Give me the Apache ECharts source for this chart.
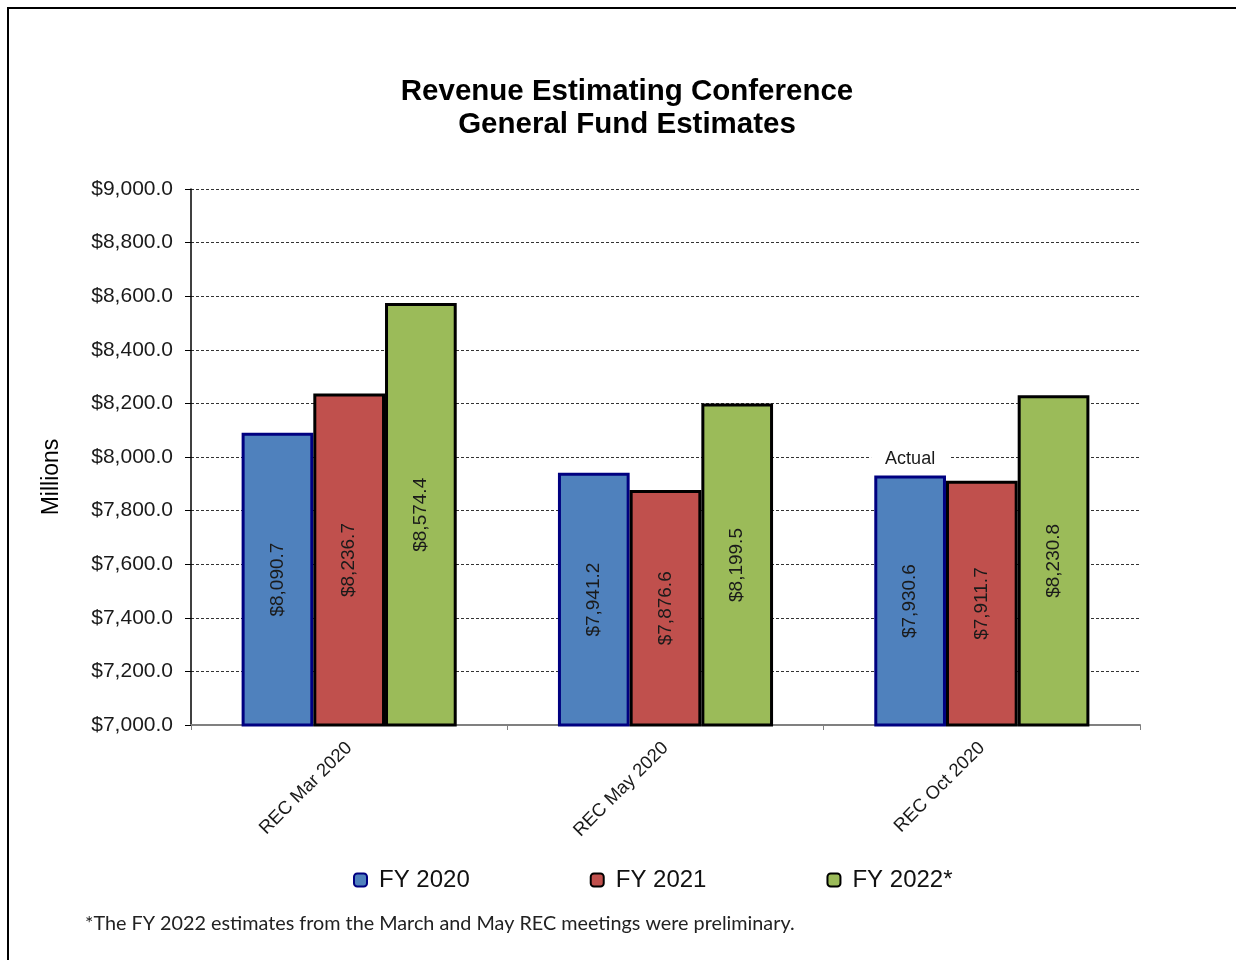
<!DOCTYPE html>
<html>
<head>
<meta charset="utf-8">
<script src="https://cdn.jsdelivr.net/npm/echarts@6/dist/echarts.min.js"></script>
<style>
html,body{margin:0;padding:0;background:#fff;}
#chart{width:1236px;height:960px;}
</style>
</head>
<body>
<div id="chart"></div>
<script>
const categories = ['REC Mar 2020', 'REC May 2020', 'REC Oct 2020'];
const seriesNames = ['FY 2020', 'FY 2021', 'FY 2022*'];
const fy2020 = [8090.7, 7941.2, 7930.6];
const fy2021 = [8236.7, 7876.6, 7911.7];
const fy2022 = [8574.4, 8199.5, 8230.8];
const yTicks = { min: 7000, max: 9000, interval: 200 };
const titleLines = ['Revenue Estimating Conference', 'General Fund Estimates'];
const footnote = '*The FY 2022 estimates from the March and May REC meetings were preliminary.';
const annotationText = 'Actual';

const fmt = v => '$' + v.toLocaleString('en-US', { minimumFractionDigits: 1, maximumFractionDigits: 1 });

const chart = echarts.init(document.getElementById('chart'), null, { renderer: 'canvas' });

const FONT = 'Liberation Sans, Arial, sans-serif';
const fills = ['#4F81BD', '#C0504D', '#9BBB59'];
const borders = ['#000080', '#000000', '#000000'];
const allData = [fy2020, fy2021, fy2022];

const series = allData.map((d, i) => {
  const s = {
    name: seriesNames[i],
    type: 'bar',
    data: d,
    barGap: '0%',
    barCategoryGap: '32%',
    itemStyle: { color: fills[i], borderColor: borders[i], borderWidth: 3 },
    label: {
      show: true,
      position: 'inside',
      rotate: 90,
      formatter: p => fmt(p.value),
      fontFamily: FONT,
      fontSize: 19,
      color: '#1a1a1a'
    },
    emphasis: { disabled: true }
  };
  if (i === 0) {
    s.markPoint = {
      symbol: 'rect',
      symbolSize: [1, 1],
      silent: true,
      itemStyle: { color: 'rgba(0,0,0,0)' },
      data: [{ coord: [categories[2], fy2020[2]] }],
      label: {
        show: true,
        formatter: annotationText,
        position: 'top',
        distance: 6,
        fontFamily: FONT,
        fontSize: 18,
        color: '#1a1a1a',
        backgroundColor: '#ffffff',
        padding: [1, 14, 1, 14]
      }
    };
  }
  return s;
});

chart.setOption({
  animation: false,
  backgroundColor: '#ffffff',
  title: {
    text: titleLines.join('\n'),
    left: 627,
    top: 75,
    padding: 0,
    textAlign: 'center',
    textStyle: {
      fontFamily: FONT,
      fontWeight: 'bold',
      fontSize: 29.5,
      lineHeight: 33,
      color: '#000'
    }
  },
  legend: {
    data: seriesNames,
    left: 348,
    top: 863,
    itemGap: 120,
    itemWidth: 13,
    itemHeight: 13,
    icon: 'roundRect',
    textStyle: { fontFamily: FONT, fontSize: 24, color: '#111', padding: [0, 0, 0, 7] },
    selectedMode: false
  },
  grid: { left: 191, right: 96, top: 189, bottom: 235, containLabel: false },
  xAxis: {
    type: 'category',
    data: categories,
    axisLine: { show: true, lineStyle: { color: '#808080', width: 2 } },
    axisTick: { show: true, length: 5, lineStyle: { color: '#808080', width: 1 } },
    axisLabel: {
      rotate: 45,
      margin: 20,
      fontFamily: FONT,
      fontSize: 18.5,
      color: '#1a1a1a'
    },
    splitLine: { show: false }
  },
  yAxis: {
    type: 'value',
    min: yTicks.min,
    max: yTicks.max,
    interval: yTicks.interval,
    axisLine: { show: true, lineStyle: { color: '#000', width: 1.5 } },
    axisTick: { show: true, length: 6, lineStyle: { color: '#000', width: 1 } },
    axisLabel: {
      formatter: v => fmt(v),
      margin: 18,
      fontFamily: FONT,
      fontSize: 21,
      color: '#1a1a1a'
    },
    splitLine: { show: true, lineStyle: { color: '#333', width: 1, type: [3, 2] } }
  },
  graphic: [
    {
      type: 'rect',
      shape: { x: 8, y: 8, width: 1300, height: 1100 },
      style: { fill: 'none', stroke: '#000', lineWidth: 2 },
      silent: true,
      z: 100
    },
    {
      type: 'text',
      x: 52,
      y: 477,
      rotation: Math.PI / 2,
      style: {
        text: 'Millions',
        fontFamily: FONT,
        fontSize: 23,
        fill: '#000',
        textAlign: 'center',
        textVerticalAlign: 'middle'
      }
    },
    {
      type: 'text',
      left: 85,
      top: 914,
      style: {
        text: footnote,
        fontFamily: 'Lato, sans-serif',
        fontSize: 19.8,
        fill: '#222'
      }
    }
  ],
  series: series
});
</script>
</body>
</html>
